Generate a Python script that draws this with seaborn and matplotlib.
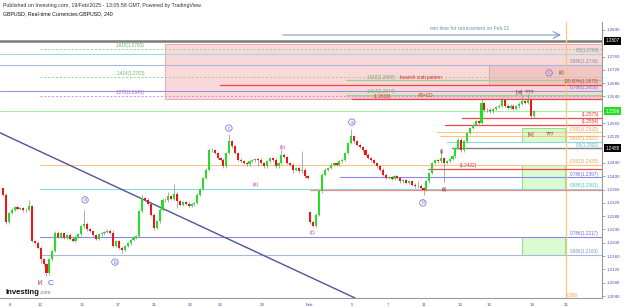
import matplotlib
matplotlib.use("Agg")
import matplotlib.pyplot as plt
import matplotlib.transforms as mtransforms
from matplotlib.patches import Rectangle
import numpy as np
import pandas as pd
import seaborn as sns

# GBPUSD 4h candles, closes in pips above 1.2000
close_pips = [
    345, 262, 290, 300, 308, 302, 305, 298, 300, 310,
    205, 200, 185, 150, 135, 108, 150, 175, 230, 218,
    228, 215, 222, 212, 205, 218, 225, 250, 258, 240,
    235, 222, 212, 225, 228, 232, 236, 230, 190, 205,
    185, 178, 190, 198, 208, 215, 220, 295, 335, 330,
    318, 285, 245, 265, 300, 330, 328, 340, 332, 348,
    325, 315, 322, 318, 312, 316, 320, 345, 362, 395,
    420, 480, 478, 470, 455, 450, 430, 470, 505, 490,
    470, 450, 445, 440, 436, 445, 448, 452, 450, 440,
    430, 445, 455, 450, 430, 440, 465, 458, 440, 435,
    420, 425, 415, 420, 400, 395, 262, 252, 285, 355,
    405, 420, 425, 435, 440, 435, 445, 450, 470, 500,
    520, 505, 495, 488, 478, 465, 455, 448, 440, 430,
    420, 405, 395, 398, 392, 400, 395, 385, 388, 380,
    385, 375, 370, 372, 365, 360, 385, 410, 440, 448,
    445, 455, 440, 445, 452, 460, 485, 510, 478, 505,
    530, 545, 555, 565, 560, 620, 598, 600, 595, 602,
    608, 612, 628, 612, 605, 612, 603, 610, 618, 625,
    620, 628, 580, 596,
]
open_gaps = {0: 365, 106: 292}
high_pips = {9: 330, 23: 228, 28: 300, 38: 238, 48: 345, 57: 352, 59: 378,
             67: 350, 71: 486, 78: 527, 96: 478, 103: 476, 120: 542,
             143: 385, 151: 480, 165: 634, 172: 638, 179: 642, 181: 648}
low_pips = {13: 140, 15: 100, 41: 168, 52: 238, 60: 305, 88: 430, 100: 410,
            107: 247, 145: 344, 152: 383, 182: 572}

date_labels = ["8", "12", "15", "17", "21", "23", "26", "28", "Feb",
               "5", "7", "11", "13", "16", "19", "21"]
date_pos = [2.4, 12.8, 27.2, 39.7, 52.1, 64.5, 74.8, 89.3, 105.5,
            120.3, 132.8, 145.2, 157.6, 167.6, 182.4, 194.1]
price_ticks = [1.2040, 1.2080, 1.2120, 1.2160, 1.2200, 1.2240, 1.2280,
               1.2320, 1.2360, 1.2400, 1.2440, 1.2520, 1.2560, 1.2640,
               1.2680, 1.2720, 1.2760, 1.2840]

# horizontal levels: price, first candle, label text
levels_full = [1.2768, 1.2736, 1.2658]
levels_full_names = ["0.5(1.2768)", "0.886(1.2736)", "0.786(1.2658)"]
ext_prices = [1.2783, 1.2700, 1.2641]
ext_names = ["1.618(1.2783)", "1.414(1.2700)", "1.272(1.2641)"]
right_levels = [1.2675, 1.2575, 1.2554, 1.2532, 1.2522, 1.2502, 1.2435,
                1.2397, 1.2363, 1.2217, 1.2163]
right_starts = [74.8, 158.3, 152.4, 149.7, 150.7, 153.1, 12.8,
                116.2, 12.8, 12.8, 12.8]
right_names = ["100.00%(1.2675)", "(1.2575)", "(1.2554)", "0.382(1.2532)",
               "0.618(1.2522)", "0.5(1.2502)", "0.382(1.2435)",
               "0.786(1.2397)", "0.886(1.2363)", "0.786(1.2217)",
               "0.886(1.2163)"]
right_kinds = ["red", "red", "red", "orange", "orange", "cyan", "orange",
               "blue", "cyan", "blue", "steel"]
# label sits above (1) or below (-1) its line
right_side = [1, 1, 1, 1, -1, -1, 1, 1, 1, 1, 1]

crab_prices = [1.2689, 1.2644, 1.2633, 1.2422, 1.2358]
crab_starts = [118.3, 118.3, 120.3, 146.6, 105.9]

current_price = 1.2596
marked_levels = [1.2807, 1.2485]
marked_starts = [-1.1, 154.8]

pink_zone = (55.9, 1.2633, 1.2798)
crab_zone = (167.6, 1.2675, 1.2736)
green_zones = [(1.2502, 1.2545), (1.2363, 1.2435), (1.2163, 1.2217)]
zone_left, zone_right = 179.0, 193.8

trend_x = [-1.1, 121.4]
trend_y = [1.2531, 1.2034]

time_line = 194.1

waves = [
    ("[v]", 12.8, 1.2080, "roman"), ("C", 16.4, 1.2078, "bigC"),
    ("a", 28.3, 1.2329, "circ"), ("b", 38.6, 1.2142, "circ"),
    ("c", 77.9, 1.2545, "circ"), ("(a)", 87.2, 1.2374, "mag"),
    ("(b)", 96.6, 1.2488, "mag"), ("(c)", 106.9, 1.2230, "mag"),
    ("a", 120.3, 1.2563, "circ"), ("b", 144.8, 1.2320, "circ"),
    ("(i)", 151.4, 1.2476, "roman"), ("(ii)", 152.4, 1.2359, "roman"),
    ("[iii]  ???", 179.8, 1.2651, "roman"), ("[iv]", 182.2, 1.2527, "roman"),
    ("???", 188.5, 1.2527, "roman"), ("c", 188.3, 1.2711, "circp"),
    ("(v)", 192.8, 1.2711, "roman"),
]

sns.set_theme(style="white")
plt.rcParams["font.family"] = ["Liberation Sans", "DejaVu Sans"]

GREEN, RED, WICK = "#22e022", "#f01414", "#8a8a8a"
AX_TXT = "#4b4bbd"
kind_color = {"red": "#f04848", "orange": "#f8c585", "cyan": "#88dada",
              "blue": "#8a86ec", "steel": "#a5b9d8"}
kind_text = {"red": "#e03030", "orange": "#f0a050", "cyan": "#58b8c0",
             "blue": "#6a66d0", "steel": "#7890b8"}

# build OHLC frame
rows = []
prev = None
for i, c in enumerate(close_pips):
    o = open_gaps.get(i, prev if prev is not None else c)
    hi = high_pips.get(i, max(o, c) + 4)
    lo = low_pips.get(i, min(o, c) - 4)
    rows.append((i, o, hi, lo, c))
    prev = c
df = pd.DataFrame(rows, columns=["idx", "open", "high", "low", "close"])
for col in ["open", "high", "low", "close"]:
    df[col] = 1.2 + df[col] / 10000.0

fig = plt.figure(figsize=(6.25, 3.07), dpi=100)
ax = fig.add_axes([0, 9 / 307, 602 / 625, 276 / 307])
ax.set_facecolor("white")
XMIN, XMAX = -1.034, 206.55
ax.set_xlim(XMIN, XMAX)
ax.set_ylim(1.2034, 1.2864)

RX = 205.6  # right-hand anchor for level labels
fs = 3.3

# zones
x0, lo, hi = pink_zone
ax.add_patch(Rectangle((x0, lo), XMAX - x0, hi - lo, fc="#f8d8d8", ec="#f2a8a8", lw=0.7, zorder=1))
x0, lo, hi = crab_zone
ax.add_patch(Rectangle((x0, lo), XMAX - x0, hi - lo, fc="#f2c4c4", ec="#d8a0a0", lw=0.6, zorder=1.1))
ax.fill_between([crab_starts[1], XMAX], crab_prices[2], crab_prices[1], color="#f8c8c8", lw=0, zorder=1)
for lo, hi in green_zones:
    ax.add_patch(Rectangle((zone_left, lo), zone_right - zone_left, hi - lo,
                           fc="#dafbd2", ec="#8fe08a", lw=0.7, zorder=1.2))

# full-width levels
ax.axhline(marked_levels[0], color="#7c7c7c", lw=1.8, zorder=2)
ax.axhline(current_price, color="#a8eea8", lw=0.8, zorder=2)
full_cols = ["#9adcdc", "#a8b8d8", "#9d90e2"]
full_txt = ["#7d98b0", "#7d90b0", "#7a70c8"]
for p, name, col, tc in zip(levels_full, levels_full_names, full_cols, full_txt):
    ax.axhline(p, color=col, lw=0.8, zorder=2)
    ax.text(RX, p + 0.0002, name, ha="right", va="bottom", fontsize=fs, color=tc, zorder=6)

# fib extension (dotted) from the left
ext_cols = ["#90d890", "#90d890", "#c890e8"]
ext_tc = ["#60b860", "#60b860", "#b060d8"]
for p, name, col, tc in zip(ext_prices, ext_names, ext_cols, ext_tc):
    ax.plot([12.8, XMAX], [p, p], color=col, lw=0.7, ls=(0, (2, 2)), zorder=2)
    ax.text(44.0, p + 0.0002, name, ha="center", va="bottom", fontsize=fs, color=tc, zorder=6)

for p, s, name, k, side in zip(right_levels, right_starts, right_names, right_kinds, right_side):
    ax.plot([s, XMAX], [p, p], color=kind_color[k], lw=0.9 if k == "red" else 0.8, zorder=2)
    ax.text(RX, p + side * 0.0002, name, ha="right", va="bottom" if side > 0 else "top",
            fontsize=fs, color=kind_text[k], zorder=6)

# crab / AB=CD lines
crab_cols = ["#a8cc98", "#90d890", "#f04848", "#f04848", "#ec8c8c"]
for p, s, col in zip(crab_prices, crab_starts, crab_cols):
    ax.plot([s, XMAX], [p, p], color=col, lw=0.9, zorder=2.1)
ax.text(125.5, crab_prices[0] + 0.0002, "1.618(1.2689)", fontsize=fs, color="#80a070", va="bottom", zorder=6)
ax.text(136.9, crab_prices[0] + 0.0002, "bearish crab pattern", fontsize=fs, color="#e02020", va="bottom", zorder=6)
ax.text(125.5, crab_prices[1] + 0.0002, "1.414(1.2644)", fontsize=fs, color="#60b860", va="bottom", zorder=6)
ax.text(128.0, crab_prices[2] - 0.0001, "(1.2633)", fontsize=fs, color="#e03030", va="bottom", zorder=6)
ax.text(143.1, crab_prices[2] + 0.0003, "AB=CD", fontsize=fs, color="#e03030", va="bottom", zorder=6)
ax.text(157.6, crab_prices[3] + 0.0002, "(1.2422)", fontsize=fs, color="#e03030", va="bottom", zorder=6)

ax.plot([marked_starts[1], XMAX], [marked_levels[1]] * 2, color="#808080", lw=1.0, zorder=2)

# trend line
sns.lineplot(x=trend_x, y=trend_y, ax=ax, color="#55509c", lw=1.0, zorder=2.5)

# time fib / target vertical
ax.axvline(time_line, color="#f8c880", lw=0.9, zorder=2)
ax.text(time_line + 0.3, 1.2038, "0.382", fontsize=fs, color="#f0a040", zorder=6)
ax.annotate("", xy=(193.4, 1.2825), xytext=(95.5, 1.2825),
            arrowprops=dict(arrowstyle="->", color="#8098c8", lw=0.8), zorder=6)
ax.text(161.0, 1.2836, "min time for retracement on Feb.21", fontsize=3.6,
        color="#7090b0", ha="center", va="bottom", zorder=6)

# candles
up = df["close"] >= df["open"]
ax.vlines(df["idx"], df["low"], df["high"], color=WICK, lw=0.5, zorder=3)
h = (df["close"] - df["open"]).to_numpy()
h = np.where(np.abs(h) < 0.00007, 0.00007, h)
ax.bar(df["idx"], h, bottom=df["open"], width=0.72,
       color=np.where(up, GREEN, RED), lw=0, zorder=4)

# wave labels
for txt, x, y, kind in waves:
    if kind == "circ" or kind == "circp":
        c = "#5b63d8" if kind == "circ" else "#7a6ad0"
        ax.text(x, y, txt, fontsize=3.4, color=c, ha="center", va="center", zorder=7,
                bbox=dict(boxstyle="circle,pad=0.15", fc="none", ec=c, lw=0.5))
    elif kind == "bigC":
        ax.text(x, y, txt, fontsize=6, color="#5060d0", ha="center", va="center", zorder=7)
    elif kind == "mag":
        ax.text(x, y, txt, fontsize=3.6, color="#c040c0", ha="center", va="center", zorder=7)
    else:
        ax.text(x, y, txt, fontsize=3.6, color="#8b2a2a", ha="center", va="center", zorder=7)

# axes
ax.yaxis.tick_right()
ax.set_yticks(price_ticks)
ax.set_yticklabels([f"{t:.4f}" for t in price_ticks], fontsize=3.2, color=AX_TXT)
ax.set_xticks(date_pos)
ax.set_xticklabels(date_labels, fontsize=3.2, color=AX_TXT)
ax.tick_params(axis="both", length=2, width=0.5, color="#888888", pad=1.5)
for side in ["top", "left"]:
    ax.spines[side].set_visible(False)
for side in ["right", "bottom"]:
    ax.spines[side].set_color("#999999")
    ax.spines[side].set_linewidth(0.8)
ax.grid(False)

trans = mtransforms.blended_transform_factory(ax.transAxes, ax.transData)
for p, bg, txt in [(marked_levels[0], "black", "1.2807"),
                   (current_price, "#22dd22", "1.2596"),
                   (marked_levels[1], "black", "1.2485")]:
    ax.text(1.006, p, txt, transform=trans, fontsize=3.3, color="white",
            va="center", ha="left", zorder=8, clip_on=False,
            bbox=dict(boxstyle="square,pad=0.35", fc=bg, ec=bg, lw=0))

fig.text(3 / 625, 1 - 5 / 307, "Published on Investing.com, 19/Feb/2025 - 13:05:58 GMT, Powered by TradingView.",
         fontsize=3.8, color="#333333", va="center")
fig.text(3 / 625, 1 - 14 / 307, "GBPUSD, Real-time Currencies:GBPUSD, 240",
         fontsize=3.8, color="#111111", va="center")
fig.text(6 / 625, 1 - 292 / 307, "Investing", fontsize=5.6, fontweight="bold", color="#111111", va="center")
fig.text(40 / 625, 1 - 293 / 307, ".com", fontsize=3.8, color="#777777", va="center")

fig.savefig("out.png", dpi=100)
